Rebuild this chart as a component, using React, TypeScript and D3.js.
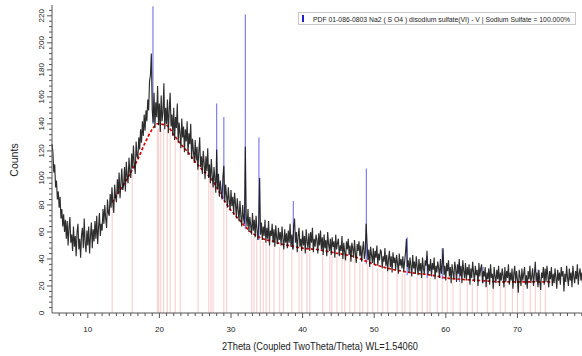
import React, { useRef, useEffect } from 'react';
import * as d3 from 'd3';

// measured pattern, 2theta from 5 to 80 in 0.125 steps (one row per degree)
const scanStart = 5;
const scanStep = 0.125;
const counts = [
  125, 119, 104, 110, 93, 98, 84, 90,
  78, 86, 70, 77, 64, 73, 60, 69,
  55, 68, 50, 63, 71, 52, 58, 46,
  64, 49, 57, 42, 60, 66, 47, 55,
  41, 58, 63, 48, 70, 52, 45, 61,
  50, 64, 44, 57, 67, 48, 62, 53,
  68, 55, 72, 51, 63, 74, 57, 66,
  61, 77, 66, 80, 70, 63, 84, 74,
  72, 88, 78, 93, 81, 74, 95, 86,
  82, 99, 88, 104, 85, 96, 107, 91,
  94, 108, 90, 112, 101, 96, 115, 104,
  100, 118, 107, 124, 110, 103, 127, 116,
  115, 130, 121, 136, 126, 142, 131, 147,
  135, 150, 142, 158, 150, 172, 176, 192,
  150, 141, 163, 137, 156, 145, 168, 139,
  155, 134, 161, 142, 149, 170, 136, 152,
  140, 158, 133, 150, 163, 138, 147, 131,
  152, 128, 145, 137, 155, 126, 141, 133,
  122, 144, 130, 138, 119, 136, 127, 142,
  117, 133, 125, 140, 114, 129, 120, 111,
  128, 113, 123, 106, 119, 130, 108, 116,
  103, 120, 111, 99, 116, 105, 122, 100,
  110, 96, 114, 102, 93, 108, 99, 89,
  121, 92, 103, 86, 98, 90, 84, 101,
  109, 82, 95, 87, 78, 93, 84, 76,
  91, 79, 86, 73, 89, 81, 70, 85,
  76, 68, 83, 72, 64, 80, 70, 66,
  123, 72, 64, 77, 60, 71, 65, 58,
  74, 61, 69, 56, 72, 62, 54, 66,
  100, 58, 67, 54, 64, 57, 69, 52,
  63, 55, 68, 50, 61, 57, 66, 52,
  62, 49, 65, 56, 51, 63, 54, 60,
  50, 64, 55, 47, 62, 52, 59, 48,
  61, 52, 66, 49, 58, 47, 64, 70,
  52, 60, 45, 57, 63, 49, 55, 46,
  61, 50, 57, 44, 62, 53, 48, 59,
  46, 60, 52, 63, 45, 55, 49, 58,
  54, 44, 59, 50, 61, 47, 56, 43,
  58, 48, 54, 42, 60, 51, 46, 55,
  43, 56, 49, 53, 41, 58, 47, 52,
  55, 42, 50, 46, 57, 40, 52, 45,
  39, 53, 47, 55, 43, 50, 38, 52,
  48, 41, 54, 44, 37, 51, 46, 53,
  42, 50, 38, 47, 53, 40, 45, 66,
  52, 39, 47, 34, 49, 43, 37, 48,
  36, 46, 41, 50, 35, 44, 39, 47,
  45, 33, 42, 38, 48, 35, 43, 31,
  40, 46, 34, 42, 30, 45, 37, 41,
  32, 43, 37, 29, 44, 35, 40, 33,
  42, 31, 38, 45, 55, 34, 39, 30,
  41, 35, 27, 43, 33, 38, 29, 42,
  34, 28, 40, 31, 37, 26, 41, 33,
  29, 39, 35, 46, 28, 36, 31, 40,
  27, 37, 32, 41, 25, 35, 30, 38,
  33, 26, 40, 29, 36, 48, 28, 35,
  24, 37, 31, 39, 27, 34, 22, 36,
  30, 25, 38, 33, 23, 36, 29, 40,
  27, 35, 22, 39, 31, 26, 37, 24,
  34, 28, 36, 21, 33, 26, 38, 30,
  23, 35, 28, 32, 20, 37, 27, 33,
  36, 22, 31, 27, 34, 19, 30, 25,
  33, 21, 36, 26, 29, 18, 34, 27,
  22, 32, 25, 35, 20, 30, 24, 33,
  28, 19, 34, 23, 31, 26, 36, 21,
  30, 24, 33, 18, 29, 35, 22, 31,
  25, 15, 32, 27, 20, 33, 24, 29,
  34, 21, 28, 18, 31, 25, 35, 22,
  27, 33, 20, 29, 38, 23, 30, 19,
  32, 24, 17, 30, 26, 34, 21, 33,
  23, 35, 28, 19, 31, 25, 34, 20,
  29, 22, 33, 26, 18, 32, 24, 30,
  21, 34, 27, 31, 16, 29, 23, 35,
  26, 20, 33, 24, 30, 19, 35, 27,
  22, 31, 25, 36, 21, 29, 33, 24,
  30, 20, 35, 26, 32, 23, 36, 28,
  27
];

// background (red trace)
const bgTheta = [13.4, 14, 15, 16, 17, 18, 19, 19.7, 21, 22, 23, 24, 25, 26, 27.3, 28, 29.2, 30, 31, 32, 33, 34, 35, 36, 37, 38, 40, 42, 45, 47, 50, 52, 55, 58, 60, 62, 65, 68, 70, 73, 75];
const bgCounts = [82, 87, 95, 104, 114, 126, 136, 140, 139, 132, 125, 119, 112, 106, 99, 93, 82, 76, 70, 64, 59, 56, 54, 53, 51, 50, 48, 47, 44, 42, 36, 33, 30, 28, 26, 25, 24, 23, 23, 23, 23];

// pink reference sticks
const pinkTheta = [13.4, 16.2, 19.7, 19.9, 20.2, 20.6, 21.1, 21.5, 22.2, 22.9, 25.4, 26.9, 27.2, 27.5, 29.0, 29.4, 32.9, 33.2, 33.6, 34.1, 34.5, 34.9, 35.4, 36.0, 36.8, 37.3, 38.5, 39.5, 39.9, 40.6, 41.0, 42.8, 43.8, 44.1, 44.8, 45.5, 45.9, 46.6, 47.3, 48.0, 48.4, 49.1, 49.8, 50.5, 51.2, 51.9, 53.2, 53.9, 54.3, 55.0, 56.0, 56.7, 57.4, 57.8, 58.8, 59.5, 60.2, 61.0, 62.0, 63.0, 63.7, 64.4, 65.8, 66.6, 67.6, 68.3, 69.3, 70.0, 70.8, 71.8, 72.5, 73.2, 73.9];
const pinkHeight = [80, 104, 136, 137, 137, 137, 136, 134, 129, 124, 108, 99, 97, 95, 82, 79, 57, 56, 55, 54, 53, 52, 52, 51, 49, 49, 47, 46, 46, 46, 45, 44, 43, 43, 42, 42, 41, 41, 40, 38, 37, 36, 35, 33, 32, 31, 30, 29, 29, 28, 27, 27, 26, 26, 25, 25, 24, 24, 23, 23, 22, 22, 22, 21, 21, 21, 21, 21, 21, 21, 21, 21, 21];

// PDF card sticks (blue)
const cardTheta = [19.1, 28.0, 29.0, 32.0, 33.9, 38.7, 48.9, 54.6, 57.4, 59.5, 61.9, 65.2, 72.9];
const cardBase = [140, 96, 84, 62, 54, 47, 36, 28, 26, 25, 23, 22, 21];
const cardTop = [227, 155, 145, 221, 130, 83, 107, 56, 42, 48, 38, 34, 32];

const xMajor = [10, 20, 30, 40, 50, 60, 70, 80];
const yMajor = [0, 20, 40, 60, 80, 100, 120, 140, 160, 180, 200, 220];

const legendText = 'PDF 01-086-0803 Na2 ( S O4 ) disodium sulfate(VI) - V | Sodium Sulfate = 100.000%';
const xTitle = '2Theta (Coupled TwoTheta/Theta) WL=1.54060';

const W = 582;
const H = 356;

export default function App() {
  const svgRef = useRef<SVGSVGElement>(null);

  useEffect(() => {
    if (!svgRef.current) return;
    const svg = d3.select(svgRef.current);
    svg.selectAll('*').remove();

    const x = d3.scaleLinear().domain([5, 80]).range([52, 589]);
    const y = d3.scaleLinear().domain([0, 228]).range([313, 5]);
    const font = 'Liberation Sans, Arial, sans-serif';

    svg.append('rect').attr('width', W).attr('height', H).attr('fill', '#fff');

    // pink sticks
    svg.append('g').selectAll('line')
      .data(pinkTheta)
      .enter().append('line')
      .attr('x1', d => x(d)).attr('x2', d => x(d))
      .attr('y1', y(0))
      .attr('y2', (d, i) => y(pinkHeight[i]))
      .attr('stroke', '#f5c4c4')
      .attr('stroke-width', 0.9);

    // blue card sticks
    svg.append('g').selectAll('line')
      .data(cardTheta)
      .enter().append('line')
      .attr('x1', d => x(d)).attr('x2', d => x(d))
      .attr('y1', (d, i) => y(cardBase[i]))
      .attr('y2', (d, i) => y(cardTop[i]))
      .attr('stroke', '#7272ee')
      .attr('stroke-width', 1.1);

    const line = d3.line<{ t: number; c: number }>()
      .x(d => x(d.t))
      .y(d => y(d.c));

    // background under the scan so it only peeks through
    const bg = bgTheta.map((t, i) => ({ t, c: bgCounts[i] }));
    svg.append('path')
      .datum(bg)
      .attr('fill', 'none')
      .attr('stroke', '#dd0000')
      .attr('stroke-width', 1.7)
      .attr('stroke-dasharray', '3 2')
      .attr('d', d3.line<{ t: number; c: number }>()
        .x(d => x(d.t)).y(d => y(d.c)).curve(d3.curveMonotoneX));

    const scan = counts.map((c, i) => ({ t: scanStart + i * scanStep, c }));
    svg.append('path')
      .datum(scan)
      .attr('fill', 'none')
      .attr('stroke', '#111')
      .attr('stroke-opacity', 0.88)
      .attr('stroke-width', 1.15)
      .attr('d', line);

    // axes
    const axisColor = '#555';
    svg.append('line')
      .attr('x1', 52).attr('x2', W).attr('y1', y(0)).attr('y2', y(0))
      .attr('stroke', axisColor).attr('stroke-width', 1);
    svg.append('line')
      .attr('x1', 52).attr('x2', 52).attr('y1', y(0)).attr('y2', y(228))
      .attr('stroke', axisColor).attr('stroke-width', 1);

    const xMinor = d3.range(6, 81, 1);
    svg.append('g').selectAll('line')
      .data(xMinor)
      .enter().append('line')
      .attr('x1', d => x(d)).attr('x2', d => x(d))
      .attr('y1', y(0))
      .attr('y2', d => y(0) + (d % 10 === 0 ? 5 : 3))
      .attr('stroke', axisColor);

    svg.append('g').selectAll('text')
      .data(xMajor)
      .enter().append('text')
      .attr('x', d => x(d))
      .attr('y', 332)
      .attr('text-anchor', 'middle')
      .attr('font-family', font)
      .attr('font-size', 8)
      .attr('fill', '#222')
      .text(d => d);

    const yMinor = d3.range(4, 228, 4);
    svg.append('g').selectAll('line')
      .data(yMinor)
      .enter().append('line')
      .attr('x1', 52)
      .attr('x2', d => 52 - (d % 20 === 0 ? 5 : 3))
      .attr('y1', d => y(d)).attr('y2', d => y(d))
      .attr('stroke', axisColor);

    svg.append('g').selectAll('text')
      .data(yMajor)
      .enter().append('text')
      .attr('transform', d => `translate(44,${y(d)}) rotate(-90)`)
      .attr('text-anchor', 'middle')
      .attr('font-family', font)
      .attr('font-size', 8)
      .attr('fill', '#222')
      .text(d => d);

    svg.append('text')
      .attr('transform', 'translate(18,160) rotate(-90)')
      .attr('text-anchor', 'middle')
      .attr('font-family', font)
      .attr('font-size', 10.5)
      .attr('fill', '#222')
      .text('Counts');

    svg.append('text')
      .attr('x', 222)
      .attr('y', 350)
      .attr('font-family', font)
      .attr('font-size', 10)
      .attr('textLength', 196)
      .attr('lengthAdjust', 'spacingAndGlyphs')
      .attr('fill', '#222')
      .text(xTitle);

    // legend
    svg.append('rect')
      .attr('x', 298.5).attr('y', 12.5).attr('width', 277).attr('height', 12)
      .attr('fill', '#fff').attr('stroke', '#c8c8c8');
    svg.append('rect')
      .attr('x', 302).attr('y', 15).attr('width', 2).attr('height', 7)
      .attr('fill', '#2222cc');
    svg.append('text')
      .attr('x', 313)
      .attr('y', 21.5)
      .attr('font-family', font)
      .attr('font-size', 6.8)
      .attr('textLength', 257)
      .attr('lengthAdjust', 'spacingAndGlyphs')
      .attr('fill', '#222')
      .text(legendText);
  }, []);

  return (
    <svg
      ref={svgRef}
      width={W}
      height={H}
      style={{ position: 'absolute', left: 0, top: 0 }}
    />
  );
}
